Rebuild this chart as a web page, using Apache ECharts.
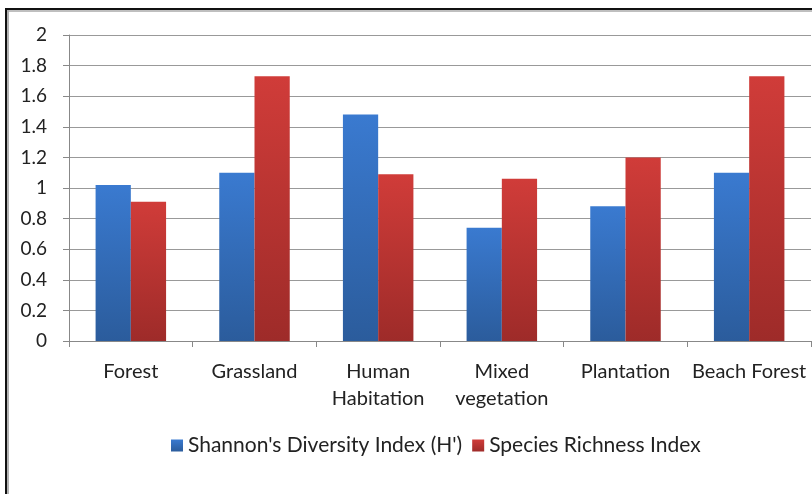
<!DOCTYPE html>
<html><head><meta charset="utf-8">
<script src="https://cdn.jsdelivr.net/npm/echarts@6/dist/echarts.min.js"></script>
<style>html,body{margin:0;padding:0;background:#fff}#c{width:812px;height:494px}</style>
</head><body><div id="c"></div>
<script>
const categories = ['Forest', 'Grassland', 'Human\nHabitation', 'Mixed\nvegetation', 'Plantation', 'Beach Forest'];
const shannon = [1.02, 1.10, 1.48, 0.74, 0.88, 1.10];
const richness = [0.91, 1.73, 1.09, 1.06, 1.20, 1.73];
const seriesNames = ["Shannon's Diversity Index (H')", 'Species Richness Index'];

const font = 'Lato, "Open Sans", sans-serif';
const chart = echarts.init(document.getElementById('c'));
const grad = (a, b) => new echarts.graphic.LinearGradient(0, 0, 0, 1, [{offset: 0, color: a}, {offset: 1, color: b}]);
chart.setOption({
  animation: false,
  backgroundColor: '#fff',
  textStyle: {fontFamily: font},
  graphic: [
    {type: 'line', shape: {x1: 6, y1: 8, x2: 6, y2: 494}, style: {stroke: '#111', lineWidth: 2}},
    {type: 'line', shape: {x1: 5, y1: 9, x2: 812, y2: 9}, style: {stroke: '#111', lineWidth: 2}},
    {type: 'line', shape: {x1: 8, y1: 10, x2: 8, y2: 494}, style: {stroke: '#999', lineWidth: 1.5}},
    {type: 'line', shape: {x1: 7, y1: 11, x2: 812, y2: 11}, style: {stroke: '#aaa', lineWidth: 1.5}}
  ],
  grid: {left: 69, right: 1, top: 35, bottom: 153, containLabel: false},
  legend: {
    left: 166, top: 430,
    itemWidth: 12, itemHeight: 12, itemGap: 10,
    icon: 'rect',
    textStyle: {fontSize: 21, color: '#222', fontFamily: font},
    data: seriesNames
  },
  xAxis: {
    type: 'category', data: categories,
    axisLine: {lineStyle: {color: '#888'}},
    axisTick: {show: true, length: 6, lineStyle: {color: '#888'}},
    axisLabel: {fontSize: 20, color: '#222', margin: 17, lineHeight: 27, interval: 0}
  },
  yAxis: {
    type: 'value', min: 0, max: 2, interval: 0.2,
    axisLine: {show: true, lineStyle: {color: '#888'}},
    axisTick: {show: true, length: 6, lineStyle: {color: '#888'}},
    splitLine: {lineStyle: {color: '#999'}},
    axisLabel: {fontSize: 19, color: '#222', margin: 22, formatter: v => String(Math.round(v * 10) / 10)}
  },
  series: [
    {name: seriesNames[0], type: 'bar', data: shannon, barGap: '0%', barCategoryGap: '43%',
     itemStyle: {color: grad('#3a7ad0', '#2b5c9c')}},
    {name: seriesNames[1], type: 'bar', data: richness,
     itemStyle: {color: grad('#d03c39', '#9e2b29')}}
  ]
});
</script></body></html>
